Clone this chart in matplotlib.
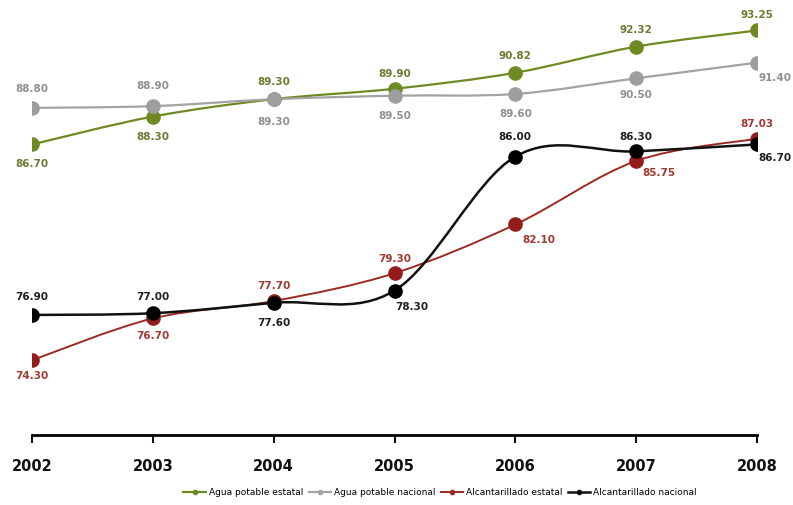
import numpy as np
import matplotlib
matplotlib.use("Agg")
import matplotlib.pyplot as plt
from matplotlib.path import Path
from matplotlib.patches import PathPatch
from matplotlib.lines import Line2D

# datos
years = [2002, 2003, 2004, 2005, 2006, 2007, 2008]
agua_estatal = [86.70, 88.30, 89.30, 89.90, 90.82, 92.32, 93.25]
agua_nacional = [88.80, 88.90, 89.30, 89.50, 89.60, 90.50, 91.40]
alc_estatal = [74.30, 76.70, 77.70, 79.30, 82.10, 85.75, 87.03]
alc_nacional = [76.90, 77.00, 77.60, 78.30, 86.00, 86.30, 86.70]
labels = ["Agua potable estatal", "Agua potable nacional",
          "Alcantarillado estatal", "Alcantarillado nacional"]

# posicion de etiquetas (offset en pixeles) por punto
pos_agua_est = [(0, -20), (0, -20), (0, 17), (0, 15), (0, 17), (0, 17), (0, 15)]
pos_agua_nac = [(0, 19), (0, 20), (0, -23), (0, -20), (0, -20), (0, -17), (18, -15)]
pos_alc_est = [(0, -16), (0, -18), (0, 15), (0, 14), (24, -16), (23, -12), (0, 15)]
pos_alc_nac = [(0, 18), (0, 16), (0, -20), (17, -16), (0, 20), (0, 14), (18, -14)]


def smooth_path(xs, ys):
    # curva suavizada tipo Excel (Catmull-Rom como Bezier)
    pts = np.column_stack([xs, ys]).astype(float)
    ext = np.vstack([pts[0], pts, pts[-1]])
    verts = [tuple(pts[0])]
    codes = [Path.MOVETO]
    for i in range(1, len(ext) - 2):
        p0, p1, p2, p3 = ext[i - 1], ext[i], ext[i + 1], ext[i + 2]
        c1 = p1 + (p2 - p0) / 6.0
        c2 = p2 - (p3 - p1) / 6.0
        verts += [tuple(c1), tuple(c2), tuple(p2)]
        codes += [Path.CURVE4] * 3
    return Path(verts, codes)


fig = plt.figure(figsize=(7.93, 5.05), dpi=100)
ax = fig.add_axes([0.0404, 0.1386, 0.9142, 0.8614])

series = [
    (agua_estatal, "#6f8a22", "#6f8a22", 1.6, pos_agua_est, "#6f7a30"),
    (agua_nacional, "#a3a3a3", "#9e9e9e", 1.6, pos_agua_nac, "#909090"),
    (alc_estatal, "#9b2a22", "#961c1c", 1.4, pos_alc_est, "#a03a30"),
    (alc_nacional, "#111111", "#000000", 1.8, pos_alc_nac, "#202020"),
]

handles = []
for (vals, lc, mc, lw, pos, tc), lab in zip(series, labels):
    patch = PathPatch(smooth_path(years, vals), facecolor="none",
                      edgecolor=lc, linewidth=lw, zorder=2)
    ax.add_patch(patch)
    ax.plot(years, vals, linestyle="none", marker="o", markersize=9.5,
            color=mc, zorder=3)
    for x, v, off in zip(years, vals, pos):
        ax.annotate(f"{v:.2f}", (x, v), xytext=off, textcoords="offset pixels",
                    ha="center", va="center", fontsize=7.5, color=tc,
                    fontweight="bold")
    handles.append(Line2D([], [], color=lc, linewidth=lw, marker="o",
                          markersize=3, label=lab))

ax.set_xlim(2002, 2008)
ax.set_ylim(70, 95)
ax.set_xticks(years)
ax.set_xticklabels([str(y) for y in years], fontsize=10.5, fontweight="bold")
ax.set_yticks([])
for s in ["top", "left", "right"]:
    ax.spines[s].set_visible(False)
ax.spines["bottom"].set_linewidth(2)
ax.tick_params(axis="x", length=6, width=1.5, pad=11, colors="#111111")

fig.legend(handles=handles, loc="center", bbox_to_anchor=(0.555, 0.025),
           ncol=4, frameon=False, fontsize=6.5, handlelength=2.5,
           columnspacing=0.6, handletextpad=0.3)

fig.savefig("out.png", dpi=100)
